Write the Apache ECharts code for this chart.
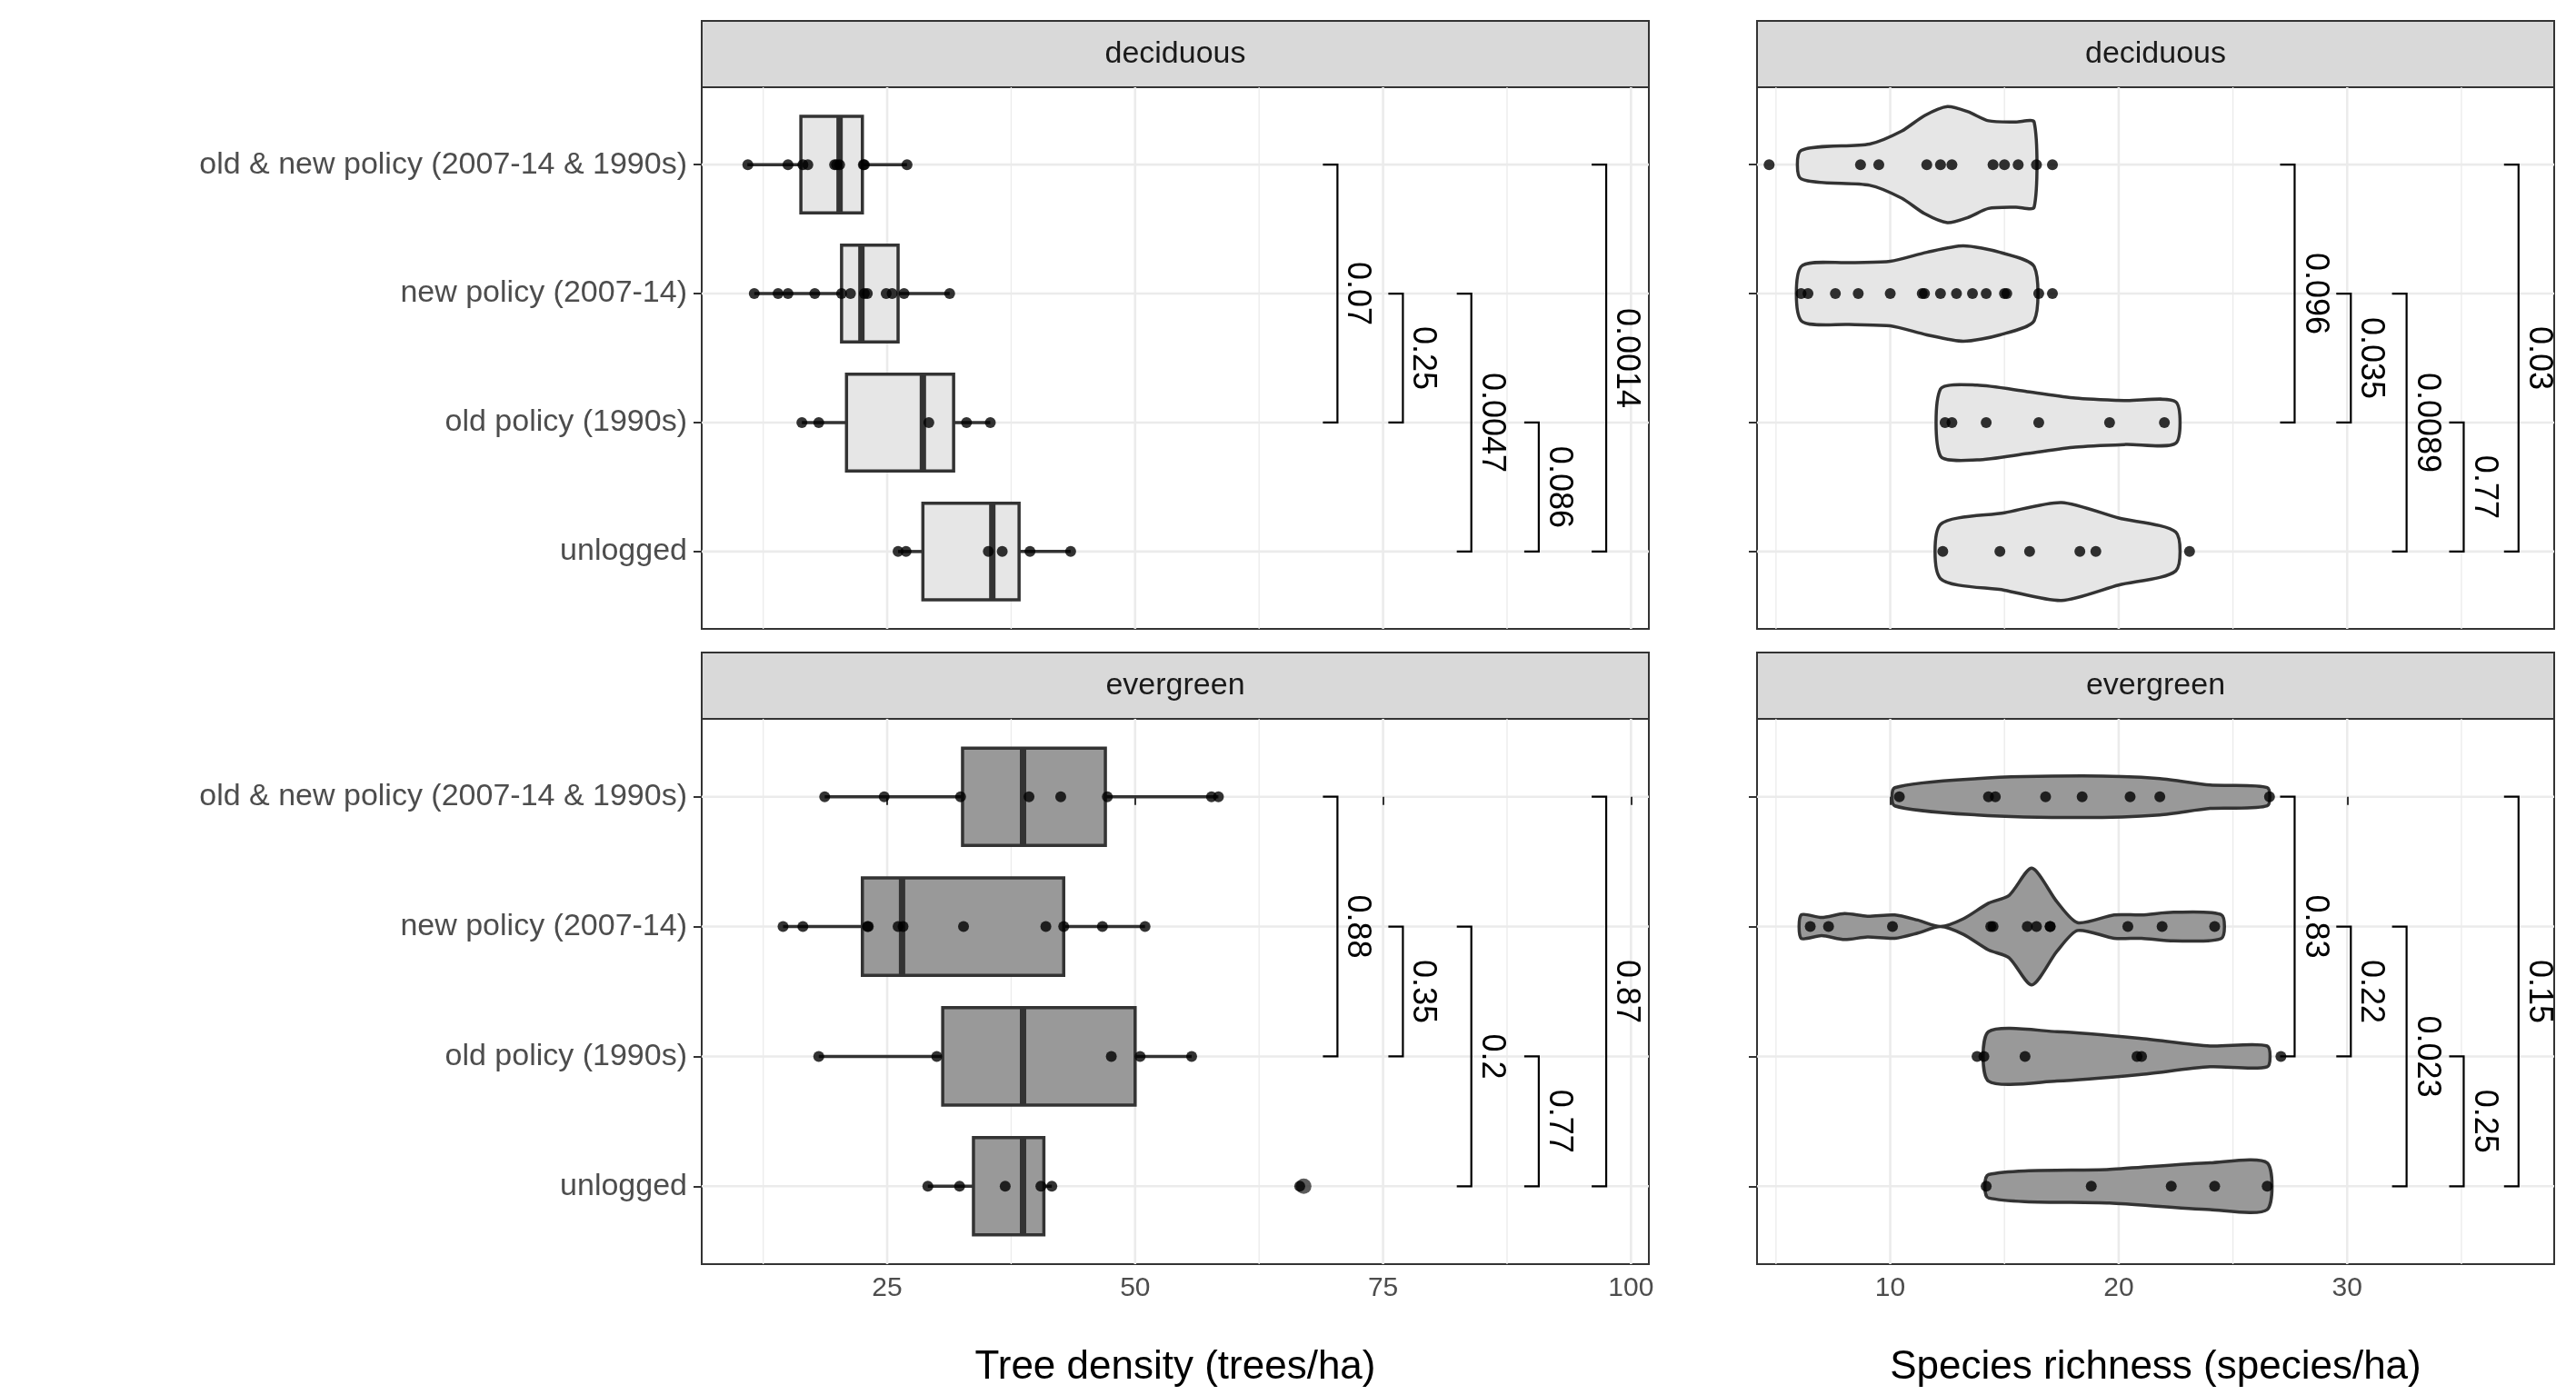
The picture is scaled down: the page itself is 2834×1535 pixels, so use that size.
<!DOCTYPE html>
<html><head><meta charset="utf-8">
<script src="https://cdn.jsdelivr.net/npm/echarts@6/dist/echarts.min.js"></script>
<style>html,body{margin:0;padding:0;background:#fff}#c{width:2834px;height:1535px}</style>
</head><body><div id="c"></div>
<script>
const categories = ['old & new policy (2007-14 & 1990s)','new policy (2007-14)','old policy (1990s)','unlogged'];
const rows = [0,1,2,3];
const panelTitles = ['deciduous','evergreen'];
const densityTicks = [25,50,75,100];
const densityMinor = [12.5,37.5,62.5,87.5];
const richnessTicks = [10,20,30];
const richnessMinor = [5,15,25,35];

// box stats: [row, whiskerLow, q1, median, q3, whiskerHigh]
const densityBoxDecid = [[0,10.9,16.3,20.2,22.5,27.0],[1,11.6,20.4,22.4,26.1,31.3],[2,16.4,20.9,28.6,31.7,35.4],[3,26.1,28.6,35.6,38.3,43.5]];
const densityBoxEver = [[0,18.7,32.6,38.7,47.0,58.4],[1,14.5,22.5,26.5,42.8,51.0],[2,18.1,30.6,38.7,50.0,55.7],[3,29.1,33.7,38.7,40.8,41.6]];
const densityOutlierEver = [[67.0,3]];
const densityPtsDecid = [
 [10.95,15.0,16.5,17.0,19.7,19.9,20.2,22.6,22.7,27.0],
 [11.6,14.0,15.0,17.7,20.4,21.3,22.7,23.0,24.9,25.5,26.7,31.3],
 [16.4,18.1,29.2,33.0,35.4],
 [26.1,26.9,35.2,36.6,39.4,43.5]];
const densityPtsEver = [
 [18.7,24.7,32.4,39.3,42.5,47.2,57.7,58.4],
 [14.5,16.5,23.0,23.1,26.1,26.6,32.7,41.0,42.8,46.7,51.0],
 [18.1,30.0,47.6,50.5,55.7],
 [29.1,32.3,36.9,40.5,41.6,66.6]];
const richPtsDecid = [
 [4.7,8.7,9.5,11.6,12.2,12.7,14.5,15.0,15.6,16.4,17.1],
 [6.1,6.4,7.6,8.6,10.0,11.4,11.5,12.2,12.9,13.6,14.2,15.0,15.1,16.5,17.1],
 [12.4,12.7,14.2,16.5,19.6,22.0],
 [12.3,14.8,16.1,18.3,19.0,23.1]];
const richPtsEver = [
 [10.4,14.3,14.6,16.8,18.4,20.5,21.8,26.6],
 [6.5,7.3,10.1,14.4,14.5,16.0,16.4,17.0,17.0,20.4,21.9,24.2],
 [13.8,14.1,15.9,20.8,21.0,27.1],
 [14.2,18.8,22.3,24.2,26.5]];
// violin outlines: per row, list of [value, halfWidth]
const violinDecid = [
 [[6.1,0.11],[9.1,0.16],[10.5,0.26],[11.5,0.38],[12.5,0.45],[13.4,0.41],[14.3,0.34],[15.5,0.33],[16.3,0.33]],
 [[6.1,0.21],[8.2,0.24],[10.0,0.25],[11.6,0.32],[13.2,0.37],[14.8,0.32],[16.3,0.21]],
 [[12.2,0.26],[13.8,0.29],[16.0,0.24],[18.1,0.19],[20.3,0.17],[22.5,0.16]],
 [[12.2,0.21],[15.0,0.30],[17.5,0.38],[20.0,0.26],[22.5,0.15]]];
const violinEver = [
 [[10.2,0.07],[13.8,0.14],[18.4,0.16],[21.8,0.14],[24.0,0.09],[26.5,0.07]],
 [[6.1,0.09],[7.0,0.07],[8.0,0.10],[9.0,0.08],[10.2,0.09],[11.2,0.05],[12.2,0.0],[13.2,0.06],[14.3,0.18],[15.2,0.24],[16.2,0.45],[17.3,0.19],[18.2,0.03],[19.8,0.09],[21.0,0.09],[22.4,0.11],[24.5,0.09]],
 [[14.3,0.19],[17.3,0.19],[20.9,0.14],[24.0,0.08],[26.5,0.08]],
 [[14.3,0.09],[19.6,0.13],[24.0,0.18],[26.5,0.18]]];
// brackets: [position, fromRow, toRow, label]
const bracketsDensDecid = [[70.4,0,2,'0.07'],[77.0,1,2,'0.25'],[83.9,1,3,'0.0047'],[90.7,2,3,'0.086'],[97.5,0,3,'0.0014']];
const bracketsDensEver = [[70.4,0,2,'0.88'],[77.0,1,2,'0.35'],[83.9,1,3,'0.2'],[90.7,2,3,'0.77'],[97.5,0,3,'0.87']];
const bracketsRichDecid = [[27.7,0,2,'0.096'],[30.16,1,2,'0.035'],[32.6,1,3,'0.0089'],[35.1,2,3,'0.77'],[37.5,0,3,'0.03']];
const bracketsRichEver = [[27.7,0,2,'0.83'],[30.16,1,2,'0.22'],[32.6,1,3,'0.023'],[35.1,2,3,'0.25'],[37.5,0,3,'0.15']];

const FILL_D = '#e6e6e6', FILL_E = '#999999', LINE = '#333333';
const grids = [
 {left:772, top:96, width:1042, height:596},
 {left:772, top:791, width:1042, height:600},
 {left:1933, top:96, width:877, height:596},
 {left:1933, top:791, width:877, height:600}];

function xAxis(i, min, max, ticks, showLabel, name){
  return {type:'value', gridIndex:i, min, max, splitLine:{show:false},
    axisLine:{show:false},
    axisTick:{show:showLabel, customValues:ticks, length:9, lineStyle:{color:LINE,width:2}},
    axisLabel:{show:showLabel, customValues:ticks, fontSize:30, color:'#4d4d4d', margin:12, fontFamily:'Liberation Sans'},
    name: name||'', nameLocation:'middle', nameGap:92, nameTextStyle:{fontSize:44, color:'#000', fontFamily:'Liberation Sans'}};
}
function yAxis(i, showLabel){
  return {type:'value', gridIndex:i, min:-0.6, max:3.6, inverse:true, splitLine:{show:false},
    axisLine:{show:false},
    axisTick:{show:true, customValues:rows, length:9, lineStyle:{color:LINE,width:2}},
    axisLabel:{show:showLabel, customValues:rows, fontSize:34, color:'#4d4d4d', margin:16, fontFamily:'Liberation Sans',
      formatter:v=>categories[Math.round(v)]||''}};
}
function gridSeries(i, major, minor){
  return {type:'custom', xAxisIndex:i, yAxisIndex:i, silent:true, z:0, data:[0],
    renderItem:(p,api)=>{
      const cs=p.coordSys, ch=[];
      const vl=(v,w)=>{const x=api.coord([v,0])[0]; if(x>cs.x&&x<cs.x+cs.width) ch.push({type:'line',shape:{x1:x,y1:cs.y,x2:x,y2:cs.y+cs.height},style:{stroke:'#ebebeb',lineWidth:w}});};
      minor.forEach(v=>vl(v,1.3)); major.forEach(v=>vl(v,2.6));
      rows.forEach(r=>{const y=api.coord([0,r])[1]; ch.push({type:'line',shape:{x1:cs.x,y1:y,x2:cs.x+cs.width,y2:y},style:{stroke:'#ebebeb',lineWidth:2.6}});});
      return {type:'group',children:ch};
    }};
}
function boxSeries(i, data, fill){
  return {type:'custom', xAxisIndex:i, yAxisIndex:i, z:2, data,
    renderItem:(p,api)=>{
      const r=api.value(0);
      const c=v=>api.coord([v,r]);
      const top=api.coord([0,r-0.375])[1], bot=api.coord([0,r+0.375])[1];
      const y=c(0)[1];
      const xl=c(api.value(1))[0], q1=c(api.value(2))[0], md=c(api.value(3))[0], q3=c(api.value(4))[0], xh=c(api.value(5))[0];
      return {type:'group',children:[
        {type:'line',shape:{x1:xl,y1:y,x2:q1,y2:y},style:{stroke:LINE,lineWidth:3.5}},
        {type:'line',shape:{x1:q3,y1:y,x2:xh,y2:y},style:{stroke:LINE,lineWidth:3.5}},
        {type:'rect',shape:{x:q1,y:top,width:q3-q1,height:bot-top},style:{fill,stroke:LINE,lineWidth:3.5}},
        {type:'line',shape:{x1:md,y1:top,x2:md,y2:bot},style:{stroke:LINE,lineWidth:7}}]};
    }};
}
function violinSeries(i, outlines, fill){
  return {type:'custom', xAxisIndex:i, yAxisIndex:i, z:2, data:rows.map(r=>[r]),
    renderItem:(p,api)=>{
      const r=api.value(0), o=outlines[r];
      const up=o.map(([v,h])=>api.coord([v,r-h])), dn=o.slice().reverse().map(([v,h])=>api.coord([v,r+h]));
      return {type:'polygon',shape:{points:up.concat(dn),smooth:0.25},style:{fill,stroke:LINE,lineWidth:3.5}};
    }};
}
function pointSeries(i, pts){
  const d=[]; pts.forEach((arr,r)=>arr.forEach(v=>d.push([v,r])));
  return {type:'scatter', xAxisIndex:i, yAxisIndex:i, z:5, symbolSize:12, itemStyle:{color:'#000'}, data:d, silent:true};
}
function bracketSeries(i, br){
  return {type:'custom', xAxisIndex:i, yAxisIndex:i, z:4, data:br.map(b=>[b[0],b[1],b[2]]),
    renderItem:(p,api)=>{
      const b=br[p.dataIndex];
      const a=api.coord([b[0],b[1]]), e=api.coord([b[0],b[2]]);
      const t=16;
      return {type:'group',children:[
        {type:'polyline',shape:{points:[[a[0]-t,a[1]],[a[0],a[1]],[e[0],e[1]],[e[0]-t,e[1]]]},style:{stroke:'#000',lineWidth:2.2,fill:null}},
        {type:'text',x:a[0]+22,y:(a[1]+e[1])/2,rotation:-Math.PI/2,style:{text:b[3],fontSize:36,fill:'#000',align:'center',verticalAlign:'middle',fontFamily:'Liberation Sans'}}]};
    }};
}
const graphics=[];
grids.forEach((g,k)=>{
  graphics.push({type:'rect',shape:{x:g.left,y:g.top-73,width:g.width,height:73},style:{fill:'#d9d9d9',stroke:LINE,lineWidth:2}});
  graphics.push({type:'text',x:g.left+g.width/2,y:g.top-36,style:{text:panelTitles[k%2],fontSize:34,fill:'#1a1a1a',align:'center',verticalAlign:'middle',fontFamily:'Liberation Sans'}});
});
const option={
  animation:false, backgroundColor:'#fff',
  grid:grids.map(g=>Object.assign({show:true,borderColor:LINE,borderWidth:2,backgroundColor:'transparent'},g)),
  xAxis:[xAxis(0,6.3,101.8,densityTicks,false),xAxis(1,6.3,101.8,densityTicks,true,'Tree density (trees/ha)'),
         xAxis(2,4.17,39.06,richnessTicks,false),xAxis(3,4.17,39.06,richnessTicks,true,'Species richness (species/ha)')],
  yAxis:[yAxis(0,true),yAxis(1,true),yAxis(2,false),yAxis(3,false)],
  graphic:graphics,
  series:[
    gridSeries(0,densityTicks,densityMinor),gridSeries(1,densityTicks,densityMinor),
    gridSeries(2,richnessTicks,richnessMinor),gridSeries(3,richnessTicks,richnessMinor),
    boxSeries(0,densityBoxDecid,FILL_D),boxSeries(1,densityBoxEver,FILL_E),
    {type:'scatter',xAxisIndex:1,yAxisIndex:1,z:4,symbolSize:17,itemStyle:{color:LINE},data:densityOutlierEver},
    violinSeries(2,violinDecid,FILL_D),violinSeries(3,violinEver,FILL_E),
    pointSeries(0,densityPtsDecid),pointSeries(1,densityPtsEver),pointSeries(2,richPtsDecid),pointSeries(3,richPtsEver),
    bracketSeries(0,bracketsDensDecid),bracketSeries(1,bracketsDensEver),bracketSeries(2,bracketsRichDecid),bracketSeries(3,bracketsRichEver)]
};
echarts.init(document.getElementById('c')).setOption(option);
</script></body></html>
